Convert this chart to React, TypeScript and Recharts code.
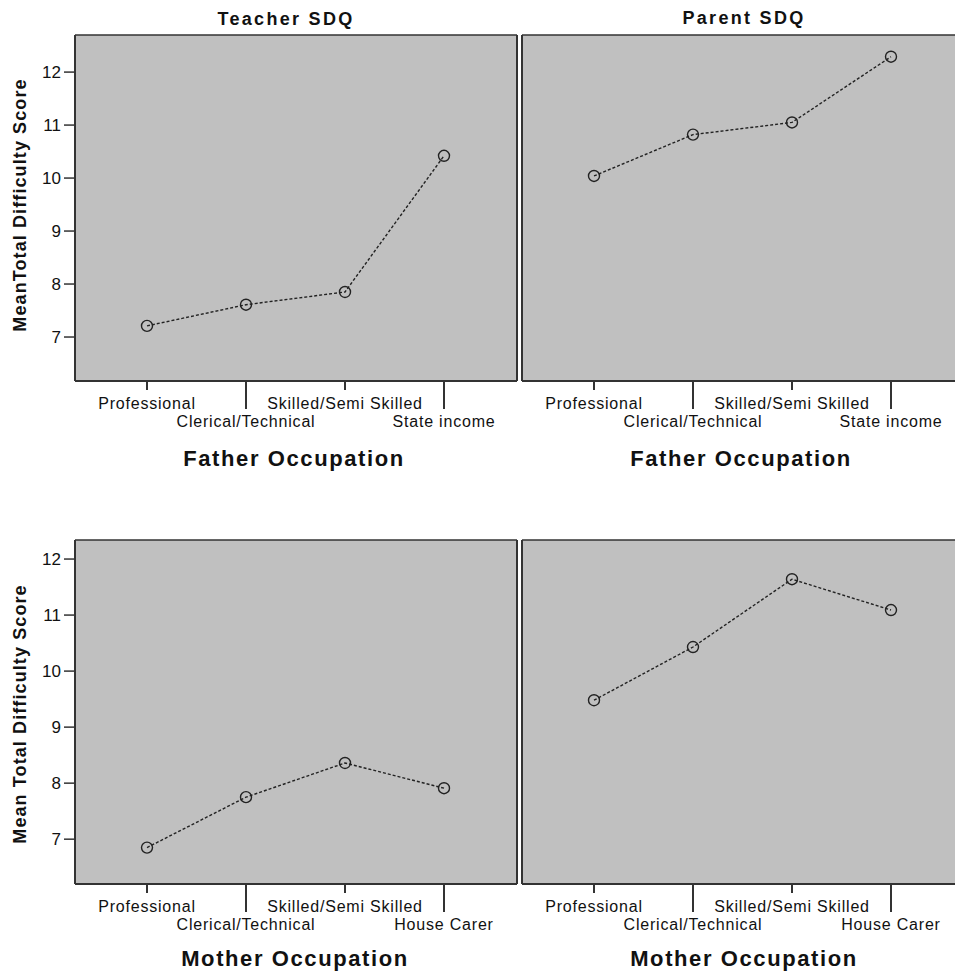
import React from 'react'
import { CartesianGrid, Line, LineChart, XAxis, YAxis } from 'recharts'

const fatherCats = ['Professional', 'Clerical/Technical', 'Skilled/Semi Skilled', 'State income']
const motherCats = ['Professional', 'Clerical/Technical', 'Skilled/Semi Skilled', 'House Carer']

const teacherFather = [7.21, 7.61, 7.85, 10.42]
const parentFather = [10.04, 10.82, 11.05, 12.29]
const teacherMother = [6.85, 7.75, 8.36, 7.91]
const parentMother = [9.48, 10.43, 11.64, 11.09]

const yTicks = [7, 8, 9, 10, 11, 12]

const FONT = '"Liberation Sans", Arial, sans-serif'
const frame = { stroke: '#333', strokeWidth: 2 }

function CatTick(props: any) {
  const { x, y, payload, index } = props
  const low = index % 2 === 1
  return (
    <g>
      <line x1={x} y1={y} x2={x} y2={y + (low ? 28 : 9)} stroke="#333" strokeWidth={2} />
      <text x={x} y={y + (low ? 46 : 28)} textAnchor="middle" fontSize={16} letterSpacing={0.8} fill="#111" fontFamily={FONT}>
        {payload.value}
      </text>
    </g>
  )
}

type PanelProps = {
  cats: string[]
  values: number[]
  left: number
  top: number
  width: number
  marginTop: number
  xHeight: number
  domain: [number, number]
  showY: boolean
  rightBorder: boolean
}

function Panel({ cats, values, left, top, width, marginTop, xHeight, domain, showY, rightBorder }: PanelProps) {
  const data = cats.map((c, i) => ({ cat: c, value: values[i] }))
  return (
    <div style={{ position: 'absolute', left, top }}>
      <LineChart width={width} height={476} data={data} margin={{ top: marginTop - 1, right: rightBorder ? 2 : 0, left: 0, bottom: 0 }}>
        <CartesianGrid fill="#c0c0c0" horizontal={false} vertical={false} />
        <XAxis
          dataKey="cat"
          interval={0}
          padding={{ left: 72, right: 73 }}
          tickSize={0}
          tickMargin={0}
          tickLine={false}
          axisLine={frame}
          height={xHeight}
          tick={(p: any) => <CatTick {...p} />}
        />
        <XAxis xAxisId="top" orientation="top" dataKey="cat" height={1} tick={false} tickLine={false} axisLine={{ stroke: '#333', strokeWidth: 1.6 }} />
        <YAxis
          type="number"
          domain={domain}
          ticks={yTicks}
          allowDataOverflow
          width={showY ? 75 : 2}
          tick={showY ? { fontSize: 17, fill: '#111', fontFamily: FONT } : false}
          tickSize={showY ? 11 : 0}
          tickMargin={3}
          tickLine={showY ? { stroke: '#333', strokeWidth: 1.5 } : false}
          axisLine={frame}
        />
        {rightBorder && <YAxis yAxisId="r" orientation="right" width={1} tick={false} tickLine={false} axisLine={frame} />}
        <Line
          type="linear"
          dataKey="value"
          stroke="#222"
          strokeWidth={1.4}
          strokeDasharray="3 2"
          dot={{ r: 5.5, stroke: '#222', strokeWidth: 1.4, fill: 'none', strokeDasharray: '' }}
          activeDot={false}
          isAnimationActive={false}
        />
      </LineChart>
    </div>
  )
}

function Title({ text, cx, cy, size, spacing }: { text: string; cx: number; cy: number; size: number; spacing: number }) {
  return (
    <div
      style={{
        position: 'absolute',
        left: cx - 200,
        top: cy - size / 2,
        width: 400,
        textAlign: 'center',
        fontSize: size,
        lineHeight: `${size}px`,
        fontWeight: 'bold',
        letterSpacing: spacing,
        whiteSpace: 'nowrap',
      }}
    >
      {text}
    </div>
  )
}

function YTitle({ text, cx, cy }: { text: string; cx: number; cy: number }) {
  return (
    <div
      style={{
        position: 'absolute',
        left: cx,
        top: cy,
        fontSize: 18,
        lineHeight: '18px',
        fontWeight: 'bold',
        letterSpacing: 1.1,
        whiteSpace: 'nowrap',
        transform: 'translate(-50%, -50%) rotate(-90deg)',
      }}
    >
      {text}
    </div>
  )
}

export default function App() {
  return (
    <div style={{ position: 'fixed', left: 0, top: 0, width: 955, height: 976, overflow: 'hidden', background: '#fff', fontFamily: FONT, color: '#111' }}>
      <Panel cats={fatherCats} values={teacherFather} left={0} top={0} width={520} marginTop={35} xHeight={95} domain={[6.17, 12.7]} showY rightBorder />
      <Panel cats={fatherCats} values={parentFather} left={520} top={0} width={444} marginTop={35} xHeight={95} domain={[6.17, 12.7]} showY={false} rightBorder={false} />
      <Panel cats={motherCats} values={teacherMother} left={0} top={500} width={520} marginTop={40} xHeight={92} domain={[6.2, 12.34]} showY rightBorder />
      <Panel cats={motherCats} values={parentMother} left={520} top={500} width={444} marginTop={40} xHeight={92} domain={[6.2, 12.34]} showY={false} rightBorder={false} />

      <Title text="Teacher SDQ" cx={286} cy={19} size={18} spacing={2.3} />
      <Title text="Parent SDQ" cx={744} cy={18} size={18} spacing={2.3} />
      <Title text="Father Occupation" cx={294} cy={459} size={22} spacing={1.6} />
      <Title text="Father Occupation" cx={741} cy={459} size={22} spacing={1.6} />
      <Title text="Mother Occupation" cx={295} cy={959} size={22} spacing={1.6} />
      <Title text="Mother Occupation" cx={744} cy={959} size={22} spacing={1.6} />

      <YTitle text="MeanTotal Difficulty Score" cx={20} cy={205} />
      <YTitle text="Mean Total Difficulty Score" cx={20} cy={714} />
    </div>
  )
}
